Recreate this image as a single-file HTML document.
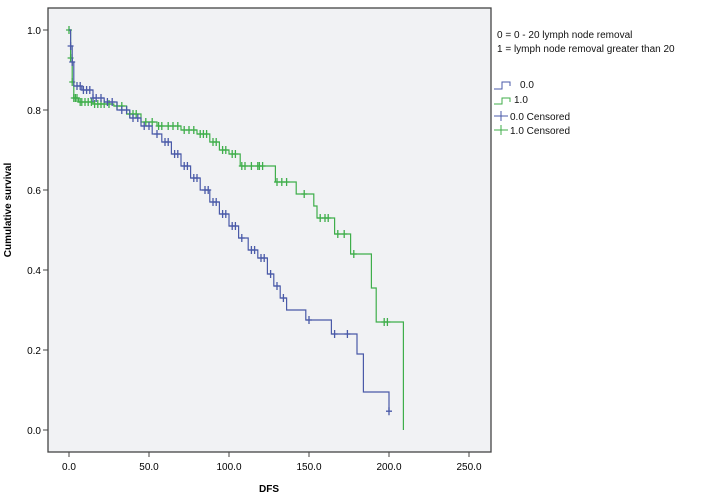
<!DOCTYPE html>
<html><head><meta charset="utf-8"><style>
body{margin:0;background:#fff;}
svg{display:block;font-family:"Liberation Sans",Arial,sans-serif;}
</style></head><body>
<svg id="c" width="706" height="497">
<rect x="48" y="8" width="443" height="444" fill="#f1f2f4" stroke="#444" stroke-width="1.3"/>
<g id="axes"></g>
<g id="series"></g>
<text x="0" y="0" transform="translate(11,210) rotate(-90)" text-anchor="middle" font-size="10" font-weight="bold">Cumulative survival</text>
<text x="269" y="492" text-anchor="middle" font-size="10" font-weight="bold">DFS</text>
<g font-size="10" fill="#111">
<text x="497" y="38">0 = 0 - 20 lymph node removal</text>
<text x="497" y="52">1 = lymph node removal greater than 20</text>
<path d="M494 89h8v-7h8v4" fill="none" stroke="#4a5aa8"/>
<text x="520" y="88">0.0</text>
<path d="M494 104h8v-6h8v4" fill="none" stroke="#3fae4a"/>
<text x="514" y="103">1.0</text>
<path d="M494 116h14M501 111v10" stroke="#4a5aa8"/>
<text x="510" y="120">0.0 Censored</text>
<path d="M494 130h14M501 125v10" stroke="#3fae4a"/>
<text x="510" y="134">1.0 Censored</text>
</g>
</svg>
<script>
const xTicks=[0,50,100,150,200,250];
const yTicks=[0.0,0.2,0.4,0.6,0.8,1.0];
const blueTimes=[0,1,2,3,8,15,22,30,38,45,52,58,64,70,76,82,88,94,100,106,112,118,124,128,132,136,148,164,180,184,200];
const blueSurv=[1.0,0.96,0.92,0.86,0.85,0.83,0.82,0.80,0.78,0.76,0.74,0.72,0.69,0.66,0.63,0.60,0.57,0.54,0.51,0.48,0.45,0.43,0.39,0.36,0.33,0.30,0.275,0.24,0.19,0.095,0.047];
const blueCens=[1,2,5,7,9,11,13,15,17,20,24,27,33,36,40,43,47,50,55,60,62,66,68,72,74,78,80,85,87,90,92,96,98,102,104,108,114,116,120,122,126,130,134,150,166,174,200];
const greenTimes=[0,1,2,3,6,15,28,36,45,55,70,80,88,94,100,107,129,142,153,155,166,176,189,192,209];
const greenSurv=[1.0,0.93,0.87,0.83,0.82,0.815,0.81,0.79,0.77,0.76,0.75,0.74,0.72,0.70,0.69,0.66,0.62,0.59,0.56,0.53,0.49,0.44,0.355,0.27,0.0];
const greenCens=[0,1,2,3,4,5,7,8,10,12,14,16,18,20,22,25,30,33,38,40,42,48,52,56,58,62,65,68,72,75,78,82,84,86,90,92,96,98,102,104,108,110,114,118,119,121,130,133,136,147,157,160,162,168,172,178,197,199];
const X=v=>69+v*1.6, Y=v=>430-v*400;
const ns="http://www.w3.org/2000/svg";
const axes=document.getElementById('axes'), ser=document.getElementById('series');
xTicks.forEach(t=>{
 const l=document.createElementNS(ns,'line');
 l.setAttribute('x1',X(t));l.setAttribute('x2',X(t));l.setAttribute('y1',452);l.setAttribute('y2',457);l.setAttribute('stroke','#444');
 
 
 axes.appendChild(l);
 const tx=document.createElementNS(ns,'text');
 tx.setAttribute('x',X(t));tx.setAttribute('y',470);tx.setAttribute('text-anchor','middle');tx.setAttribute('font-size','10');
 tx.textContent=t.toFixed(1);
 
 
 axes.appendChild(tx);
});
yTicks.forEach(t=>{
 const l=document.createElementNS(ns,'line');
 l.setAttribute('x1',43);l.setAttribute('x2',48);l.setAttribute('y1',Y(t));l.setAttribute('y2',Y(t));l.setAttribute('stroke','#444');
 
 
 axes.appendChild(l);
 const tx=document.createElementNS(ns,'text');
 tx.setAttribute('x',41);tx.setAttribute('y',Y(t)+4);tx.setAttribute('text-anchor','end');tx.setAttribute('font-size','10');
 tx.textContent=t.toFixed(1);
 
 
 axes.appendChild(tx);
});
function survAt(times,surv,t){let s=surv[0];for(let i=0;i<times.length;i++){if(times[i]<=t)s=surv[i];}return s;}
function draw(times,surv,cens,color,name){
 let d='M'+X(times[0])+' '+Y(surv[0]);
 for(let i=1;i<times.length;i++){d+=' H'+X(times[i])+' V'+Y(surv[i]);}
 const p=document.createElementNS(ns,'path');
 p.setAttribute('d',d);p.setAttribute('fill','none');p.setAttribute('stroke',color);p.setAttribute('stroke-width','1.2');
 
 
 ser.appendChild(p);
 cens.forEach(t=>{
  const s=survAt(times,surv,t);
  const m=document.createElementNS(ns,'path');
  const x=X(t),y=Y(s);
  m.setAttribute('d','M'+(x-3)+' '+y+'h6M'+x+' '+(y-4)+'v8');
  m.setAttribute('stroke',color);m.setAttribute('stroke-width','1.3');
  
  
  ser.appendChild(m);
 });
}
draw(greenTimes,greenSurv,greenCens,'#3fae4a','group-1');
draw(blueTimes,blueSurv,blueCens,'#4a5aa8','group-0');
</script>
</body></html>
